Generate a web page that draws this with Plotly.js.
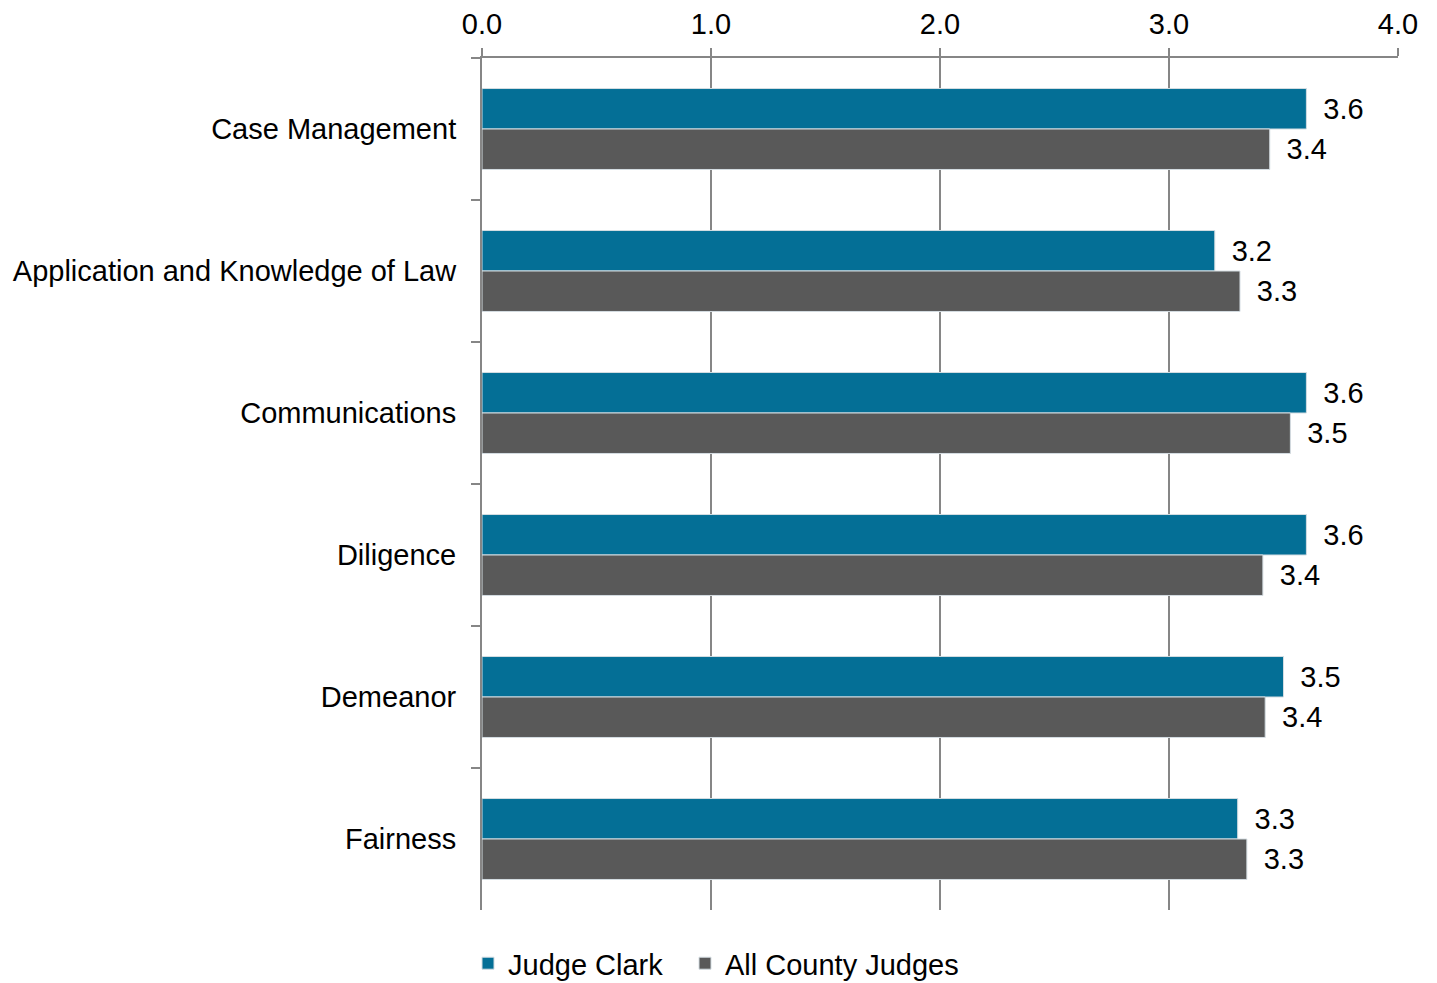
<!DOCTYPE html>
<html>
<head>
<meta charset="utf-8">
<script src="https://cdn.plot.ly/plotly-3.0.1.min.js"></script>
<style>
html,body{margin:0;padding:0;background:#fff;}
#chart{width:1437px;height:983px;}
</style>
</head>
<body>
<div id="chart"></div>
<script>
const categories = ["Case Management", "Application and Knowledge of Law", "Communications", "Diligence", "Demeanor", "Fairness"];
const judgeClark = [3.60, 3.20, 3.60, 3.60, 3.50, 3.30];
const allCountyJudges = [3.44, 3.31, 3.53, 3.41, 3.42, 3.34];
const seriesNames = ["Judge Clark", "All County Judges"];
const xTickVals = [0, 1, 2, 3, 4];
const xTickText = ["0.0", "1.0", "2.0", "3.0", "4.0"];

const FONT = "Liberation Sans, Arial, sans-serif";
const FS = 29;

function barTrace(name, vals, color, legendId) {
  return {
    type: "bar",
    orientation: "h",
    name: name,
    legend: legendId,
    y: categories,
    x: vals,
    marker: {color: color, line: {color: "#d4dde2", width: 1}},
    texttemplate: "\u00a0\u2009%{x:.1f}",
    textposition: "outside",
    cliponaxis: false,
    textfont: {family: FONT, size: FS, color: "#000"},
    hoverinfo: "skip"
  };
}

const data = [
  barTrace(seriesNames[0], judgeClark, "#046F96", "legend"),
  barTrace(seriesNames[1], allCountyJudges, "#595959", "legend2")
];

function legendAt(x) {
  return {
    orientation: "h",
    xref: "container", yref: "container",
    x: x, xanchor: "left",
    y: 0.02, yanchor: "middle",
    font: {family: FONT, size: FS, color: "#000"},
    bgcolor: "rgba(0,0,0,0)",
    itemwidth: 30
  };
}

const layout = {
  width: 1437,
  height: 983,
  margin: {l: 482, r: 39, t: 58, b: 73},
  paper_bgcolor: "#fff",
  plot_bgcolor: "#fff",
  font: {family: FONT, size: FS, color: "#000"},
  barmode: "group",
  bargap: 0.43,
  bargroupgap: 0,
  showlegend: true,
  legend: legendAt(468 / 1437),
  legend2: legendAt(685 / 1437),
  xaxis: {
    side: "top",
    range: [0, 4],
    tickvals: xTickVals,
    ticktext: xTickText,
    showgrid: true,
    gridcolor: "#868686",
    gridwidth: 2,
    zeroline: false,
    showline: true,
    linecolor: "#868686",
    linewidth: 2,
    ticks: "outside",
    ticklen: 8,
    tickwidth: 2,
    tickcolor: "#868686",
    ticklabelstandoff: 2,
    tickfont: {family: FONT, size: FS, color: "#000"},
    fixedrange: true
  },
  yaxis: {
    type: "category",
    autorange: "reversed",
    showgrid: false,
    zeroline: false,
    showline: true,
    linecolor: "#868686",
    linewidth: 2,
    ticks: "outside",
    tickson: "boundaries",
    ticklen: 9,
    tickwidth: 2,
    tickcolor: "#868686",
    ticklabelstandoff: 18,
    tickfont: {family: FONT, size: FS, color: "#000"},
    fixedrange: true
  }
};

Plotly.newPlot("chart", data, layout, {displayModeBar: false, staticPlot: true});
</script>
</body>
</html>
